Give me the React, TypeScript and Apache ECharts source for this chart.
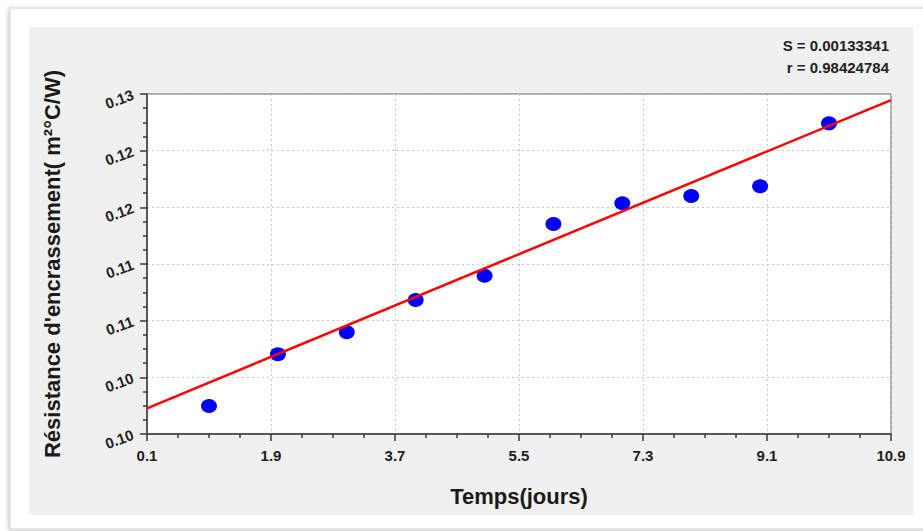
import React, { useEffect, useRef } from "react";
import * as echarts from "echarts";

const days = [1, 2, 3, 4, 5, 6, 7, 8, 9, 10];
const resistance = [0.10122, 0.10533, 0.10708, 0.10964, 0.11157, 0.11568, 0.11732, 0.1179, 0.11867, 0.12367];
const fitX = [0.1, 10.9];
const fitY = [0.10104, 0.12552];
const xTicks = [0.1, 1.9, 3.7, 5.5, 7.3, 9.1, 10.9];
const xTickLabels = ["0.1", "1.9", "3.7", "5.5", "7.3", "9.1", "10.9"];
const yTicks = [0.099, 0.1035, 0.108, 0.1125, 0.117, 0.1215, 0.126];
const yTickLabels = ["0.10", "0.10", "0.11", "0.11", "0.12", "0.12", "0.13"];
const statLines = ["S = 0.00133341", "r = 0.98424784"];
const xName = "Temps(jours)";
const yName = "Résistance d'encrassement( m²°C/W)";

const FONT = "'Liberation Sans', Arial, sans-serif";

function minorOf(ticks: number[], parts: number): number[] {
  const out: number[] = [];
  for (let i = 0; i < ticks.length - 1; i++) {
    const step = (ticks[i + 1] - ticks[i]) / parts;
    for (let k = 1; k < parts; k++) out.push(ticks[i] + step * k);
  }
  return out;
}

function labelFor(ticks: number[], labels: string[]) {
  return (v: number) => {
    let best = 0;
    for (let i = 1; i < ticks.length; i++) {
      if (Math.abs(ticks[i] - v) < Math.abs(ticks[best] - v)) best = i;
    }
    return labels[best];
  };
}

export default function App() {
  const ref = useRef<HTMLDivElement>(null);
  useEffect(() => {
    if (!ref.current) return;
    const chart = echarts.init(ref.current, undefined, { renderer: "svg" });
    const gridRect = { left: 147, top: 94, right: 32, bottom: 97 };
    const axisColor = "#3a3a3a";
    chart.setOption({
      animation: false,
      backgroundColor: "#ffffff",
      textStyle: { fontFamily: FONT },
      graphic: [
        {
          type: "rect",
          z: -10,
          shape: { x: 10, y: 8, width: 930, height: 521 },
          style: {
            fill: "#ffffff",
            stroke: "#d4d4d4",
            lineWidth: 1,
            shadowBlur: 4,
            shadowColor: "rgba(0,0,0,0.25)",
            shadowOffsetX: -1,
            shadowOffsetY: 1,
          },
          silent: true,
        },
        {
          type: "rect",
          z: -9,
          shape: { x: 29, y: 27, width: 884, height: 488 },
          style: { fill: "#f0f0f0" },
          silent: true,
        },
        ...statLines.map((t, i) => ({
          type: "text",
          z: 10,
          x: 889,
          y: 45 + i * 22,
          style: {
            text: t,
            align: "right",
            verticalAlign: "middle",
            fontFamily: FONT,
            fontWeight: "bold",
            fontSize: 15,
            fill: "#222222",
          },
        })),
      ],
      grid: [
        {
          ...gridRect,
          show: true,
          backgroundColor: "#ffffff",
          borderColor: "#606060",
          borderWidth: 1,
        },
        { ...gridRect, show: false },
      ],
      xAxis: [
        {
          type: "value",
          gridIndex: 0,
          min: 0.1,
          max: 10.9,
          name: xName,
          nameLocation: "middle",
          nameGap: 51,
          nameTextStyle: { fontFamily: FONT, fontWeight: "bold", fontSize: 22, color: "#1a1a1a" },
          axisLine: { show: true, lineStyle: { color: axisColor, width: 1.5 } },
          axisTick: { show: true, customValues: xTicks, length: 7, lineStyle: { color: axisColor, width: 1.5 } },
          axisLabel: {
            customValues: xTicks,
            formatter: labelFor(xTicks, xTickLabels),
            margin: 14,
            fontFamily: FONT,
            fontWeight: "bold",
            fontSize: 15,
            color: "#222222",
          },
          splitLine: { show: true, lineStyle: { color: "#c4c4c4", type: [2, 3], width: 1 } },
        },
        {
          type: "value",
          gridIndex: 1,
          min: 0.1,
          max: 10.9,
          position: "bottom",
          axisLine: { show: false },
          axisTick: { show: true, customValues: minorOf(xTicks, 4), length: 4, lineStyle: { color: axisColor, width: 1.5 } },
          axisLabel: { show: false },
          splitLine: { show: false },
        },
      ],
      yAxis: [
        {
          type: "value",
          gridIndex: 0,
          min: 0.099,
          max: 0.126,
          name: yName,
          nameLocation: "middle",
          nameGap: 84,
          nameTextStyle: { fontFamily: FONT, fontWeight: "bold", fontSize: 22, color: "#1a1a1a" },
          axisLine: { show: true, lineStyle: { color: axisColor, width: 1.5 } },
          axisTick: { show: true, customValues: yTicks, length: 7, lineStyle: { color: axisColor, width: 1.5 } },
          axisLabel: {
            customValues: yTicks,
            formatter: labelFor(yTicks, yTickLabels),
            rotate: 20,
            margin: 14,
            fontFamily: FONT,
            fontWeight: "bold",
            fontSize: 15,
            color: "#222222",
          },
          splitLine: { show: true, lineStyle: { color: "#c4c4c4", type: [2, 3], width: 1 } },
        },
        {
          type: "value",
          gridIndex: 1,
          min: 0.099,
          max: 0.126,
          position: "left",
          axisLine: { show: false },
          axisTick: { show: true, customValues: minorOf(yTicks, 4), length: 4, lineStyle: { color: axisColor, width: 1.5 } },
          axisLabel: { show: false },
          splitLine: { show: false },
        },
      ],
      series: [
        {
          type: "line",
          xAxisIndex: 0,
          yAxisIndex: 0,
          data: fitX.map((x, i) => [x, fitY[i]]),
          showSymbol: false,
          symbol: "none",
          lineStyle: { color: "#ff0000", width: 2.5 },
          z: 3,
        },
        {
          type: "scatter",
          xAxisIndex: 0,
          yAxisIndex: 0,
          data: days.map((d, i) => [d, resistance[i]]),
          symbol: "circle",
          symbolSize: [16, 14],
          itemStyle: { color: "#0000ff", opacity: 1 },
          z: 2,
        },
      ],
    });
    return () => chart.dispose();
  }, []);
  return (
    <div
      ref={ref}
      style={{ position: "absolute", left: 0, top: 0, width: 923, height: 531 }}
    />
  );
}
